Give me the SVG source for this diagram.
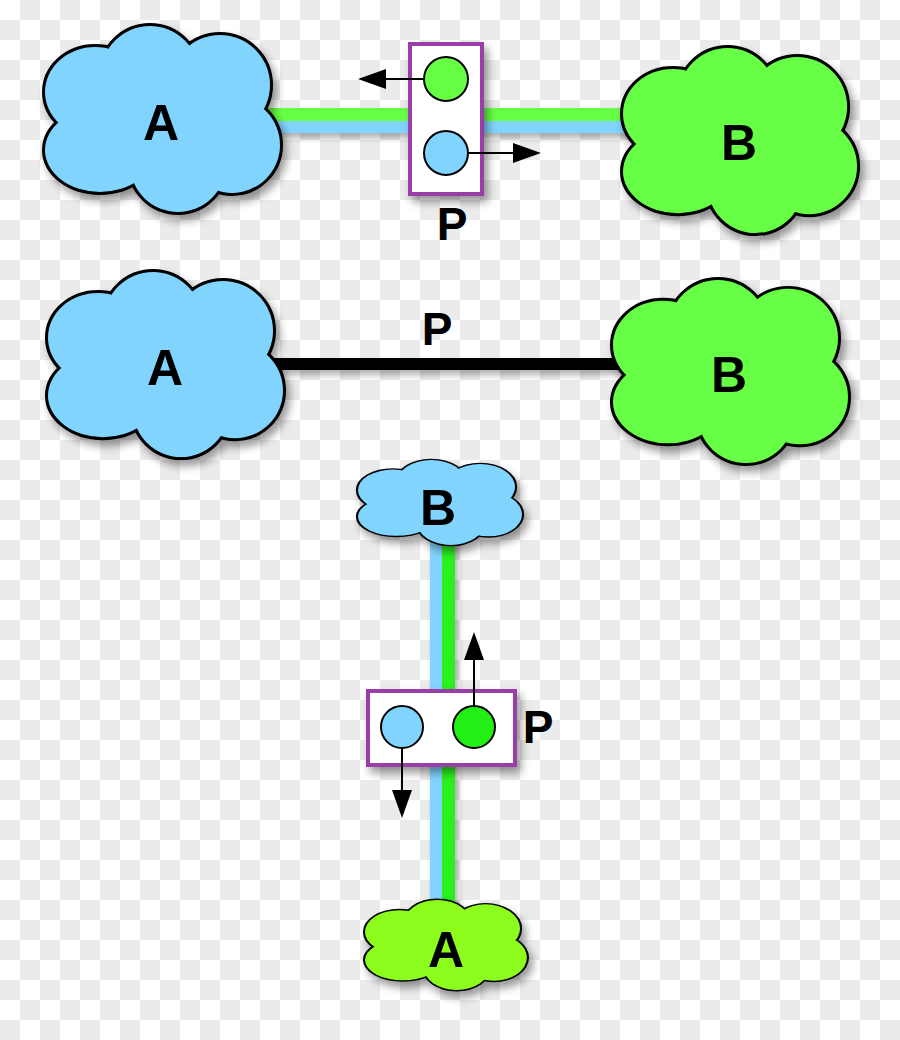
<svg xmlns="http://www.w3.org/2000/svg" xmlns:xlink="http://www.w3.org/1999/xlink" width="900" height="1040" viewBox="0 0 900 1040">
  <style>
    .lbl { font-family: "Liberation Sans", Arial, Helvetica, sans-serif; font-weight: bold; fill: #000; text-anchor: middle; }
    .big { font-size: 50px; }
    .plbl { font-size: 46px; }
    .outline { fill: #000; stroke: #000; stroke-width: 6; vector-effect: non-scaling-stroke; }
    .pbox { fill: #fff; stroke: #9a3ea9; stroke-width: 4; }
    .dot { stroke: #000; stroke-width: 2; }
    .arr { stroke: #000; stroke-width: 2; fill: none; marker-end: url(#tri); }
  </style>
  <defs>
    <pattern id="checker" width="40" height="40" patternUnits="userSpaceOnUse">
      <rect width="40" height="40" fill="#ffffff"/>
      <rect x="20" y="0" width="20" height="20" fill="#ebebeb"/>
      <rect x="0" y="20" width="20" height="20" fill="#ebebeb"/>
    </pattern>
    <filter id="sh" x="-20%" y="-20%" width="150%" height="160%">
      <feDropShadow dx="4" dy="6" stdDeviation="4" flood-color="#000" flood-opacity="0.4"/>
    </filter>
    <filter id="lsh" filterUnits="userSpaceOnUse" x="0" y="0" width="900" height="1040">
      <feDropShadow dx="3" dy="5" stdDeviation="3" flood-color="#000" flood-opacity="0.3"/>
    </filter>
    <marker id="tri" viewBox="0 0 28 20" refX="0" refY="10" markerWidth="28" markerHeight="20" markerUnits="userSpaceOnUse" orient="auto">
      <path d="M0,0 L28,10 L0,20 z" fill="#000"/>
    </marker>
    <g id="cloud">
      <g class="outline">
        <ellipse cx="50" cy="66" rx="50" ry="45"/>
        <circle cx="105" cy="49" r="49"/>
        <circle cx="175" cy="59" r="50"/>
        <circle cx="187" cy="119" r="48"/>
        <circle cx="133" cy="138" r="48"/>
        <ellipse cx="55" cy="124" rx="55" ry="42"/>
      </g>
      <g>
        <ellipse cx="50" cy="66" rx="50" ry="45"/>
        <circle cx="105" cy="49" r="49"/>
        <circle cx="175" cy="59" r="50"/>
        <circle cx="187" cy="119" r="48"/>
        <circle cx="133" cy="138" r="48"/>
        <ellipse cx="55" cy="124" rx="55" ry="42"/>
        <ellipse cx="117" cy="94" rx="85" ry="60"/>
      </g>
    </g>
  </defs>

  <rect x="0" y="0" width="900" height="1040" fill="url(#checker)"/>

  <g id="connectors">
    <g filter="url(#lsh)">
      <rect x="250" y="108" width="390" height="13" fill="#66ff44"/>
      <rect x="250" y="121" width="390" height="12" fill="#81d4fe"/>
    </g>
    <g filter="url(#lsh)">
      <rect x="260" y="358" width="370" height="12" fill="#000"/>
    </g>
    <g filter="url(#lsh)">
      <rect x="430" y="520" width="12" height="400" fill="#81d4fe"/>
      <rect x="442" y="520" width="13" height="400" fill="#2af01a"/>
    </g>
  </g>

  <g id="top-A">
    <g filter="url(#sh)"><use xlink:href="#cloud" transform="translate(45,26)" fill="#81d4fe"/></g>
    <text class="lbl big" x="161" y="140">A</text>
  </g>
  <g id="top-B">
    <g filter="url(#sh)"><use xlink:href="#cloud" transform="translate(623,48) scale(0.996,0.995)" fill="#66ff44"/></g>
    <text class="lbl big" x="739" y="160">B</text>
  </g>
  <g id="top-P">
    <rect class="pbox" x="410" y="44" width="72" height="150" filter="url(#sh)"/>
    <circle class="dot" cx="446" cy="79" r="22" fill="#66ff44"/>
    <circle class="dot" cx="446" cy="153" r="22" fill="#81d4fe"/>
    <text class="lbl plbl" x="452" y="240">P</text>
  </g>

  <g id="mid-A">
    <g filter="url(#sh)"><use xlink:href="#cloud" transform="translate(48,272) scale(1,0.995)" fill="#81d4fe"/></g>
    <text class="lbl big" x="165" y="385">A</text>
  </g>
  <g id="mid-B">
    <g filter="url(#sh)"><use xlink:href="#cloud" transform="translate(613,280) scale(1,0.984)" fill="#66ff44"/></g>
    <text class="lbl big" x="729" y="392">B</text>
  </g>
  <g id="mid-P">
    <text class="lbl plbl" x="437" y="345">P</text>
  </g>

  <g id="bottom-B">
    <g filter="url(#sh)"><use xlink:href="#cloud" transform="translate(358,460) scale(0.698,0.457)" fill="#81d4fe"/></g>
    <text class="lbl big" x="438" y="525">B</text>
  </g>
  <g id="bottom-P">
    <rect class="pbox" x="368" y="691" width="147" height="74" filter="url(#sh)"/>
    <circle class="dot" cx="402" cy="727" r="21" fill="#81d4fe"/>
    <circle class="dot" cx="474" cy="727" r="21" fill="#22f015"/>
    <text class="lbl plbl" x="538" y="743">P</text>
  </g>
  <g id="bottom-A">
    <g filter="url(#sh)"><use xlink:href="#cloud" transform="translate(365,900) scale(0.689,0.484)" fill="#8cfc1e"/></g>
    <text class="lbl big" x="446" y="967">A</text>
  </g>

  <g id="flow-arrows">
    <line class="arr" x1="424" y1="79" x2="386" y2="79"/>
    <line class="arr" x1="468" y1="153" x2="513" y2="153"/>
    <line class="arr" x1="474" y1="706" x2="474" y2="660"/>
    <line class="arr" x1="402" y1="748" x2="402" y2="790"/>
  </g>
</svg>
